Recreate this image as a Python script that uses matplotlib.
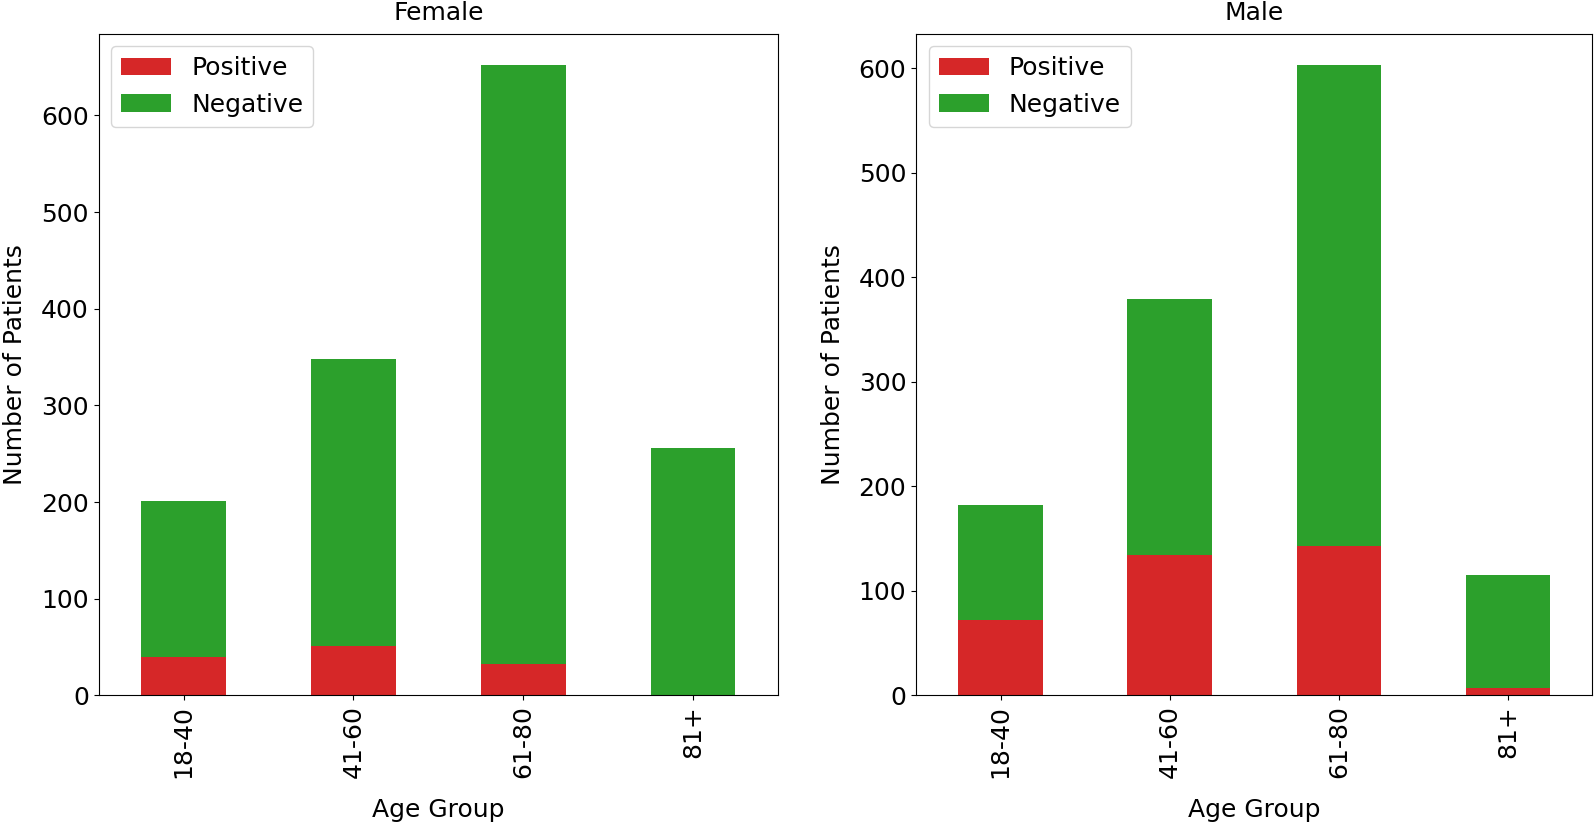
import numpy as np
import matplotlib.pyplot as plt

ages = ["18-40", "41-60", "61-80", "81+"]
# female counts
f_pos = [40, 51, 33, 1]
f_total = [201, 348, 652, 256]
# male counts
m_pos = [72, 134, 143, 7]
m_total = [182, 379, 603, 115]

plt.rcParams['font.size'] = 18

fig = plt.figure(figsize=(15.94, 8.26), dpi=100)
ax1 = fig.add_axes([0.0619, 0.158, 0.4261, 0.8014])
ax2 = fig.add_axes([0.5747, 0.158, 0.4243, 0.8014])

x = np.arange(len(ages))
for ax, pos, tot, title in [(ax1, f_pos, f_total, "Female"), (ax2, m_pos, m_total, "Male")]:
    neg = np.array(tot) - np.array(pos)
    ax.bar(x, pos, 0.5, color="tab:red", label="Positive")
    ax.bar(x, neg, 0.5, bottom=pos, color="tab:green", label="Negative")
    ax.set_xlim(-0.5, 3.5)
    ax.set_xticks(x)
    ax.set_xticklabels(ages, rotation=90)
    ax.set_xlabel("Age Group", labelpad=14)
    ax.set_ylabel("Number of Patients", labelpad=10)
    ax.set_title(title, fontsize=18, pad=10)
    ax.legend(loc="upper left")

fig.savefig("out.png", dpi=100)
